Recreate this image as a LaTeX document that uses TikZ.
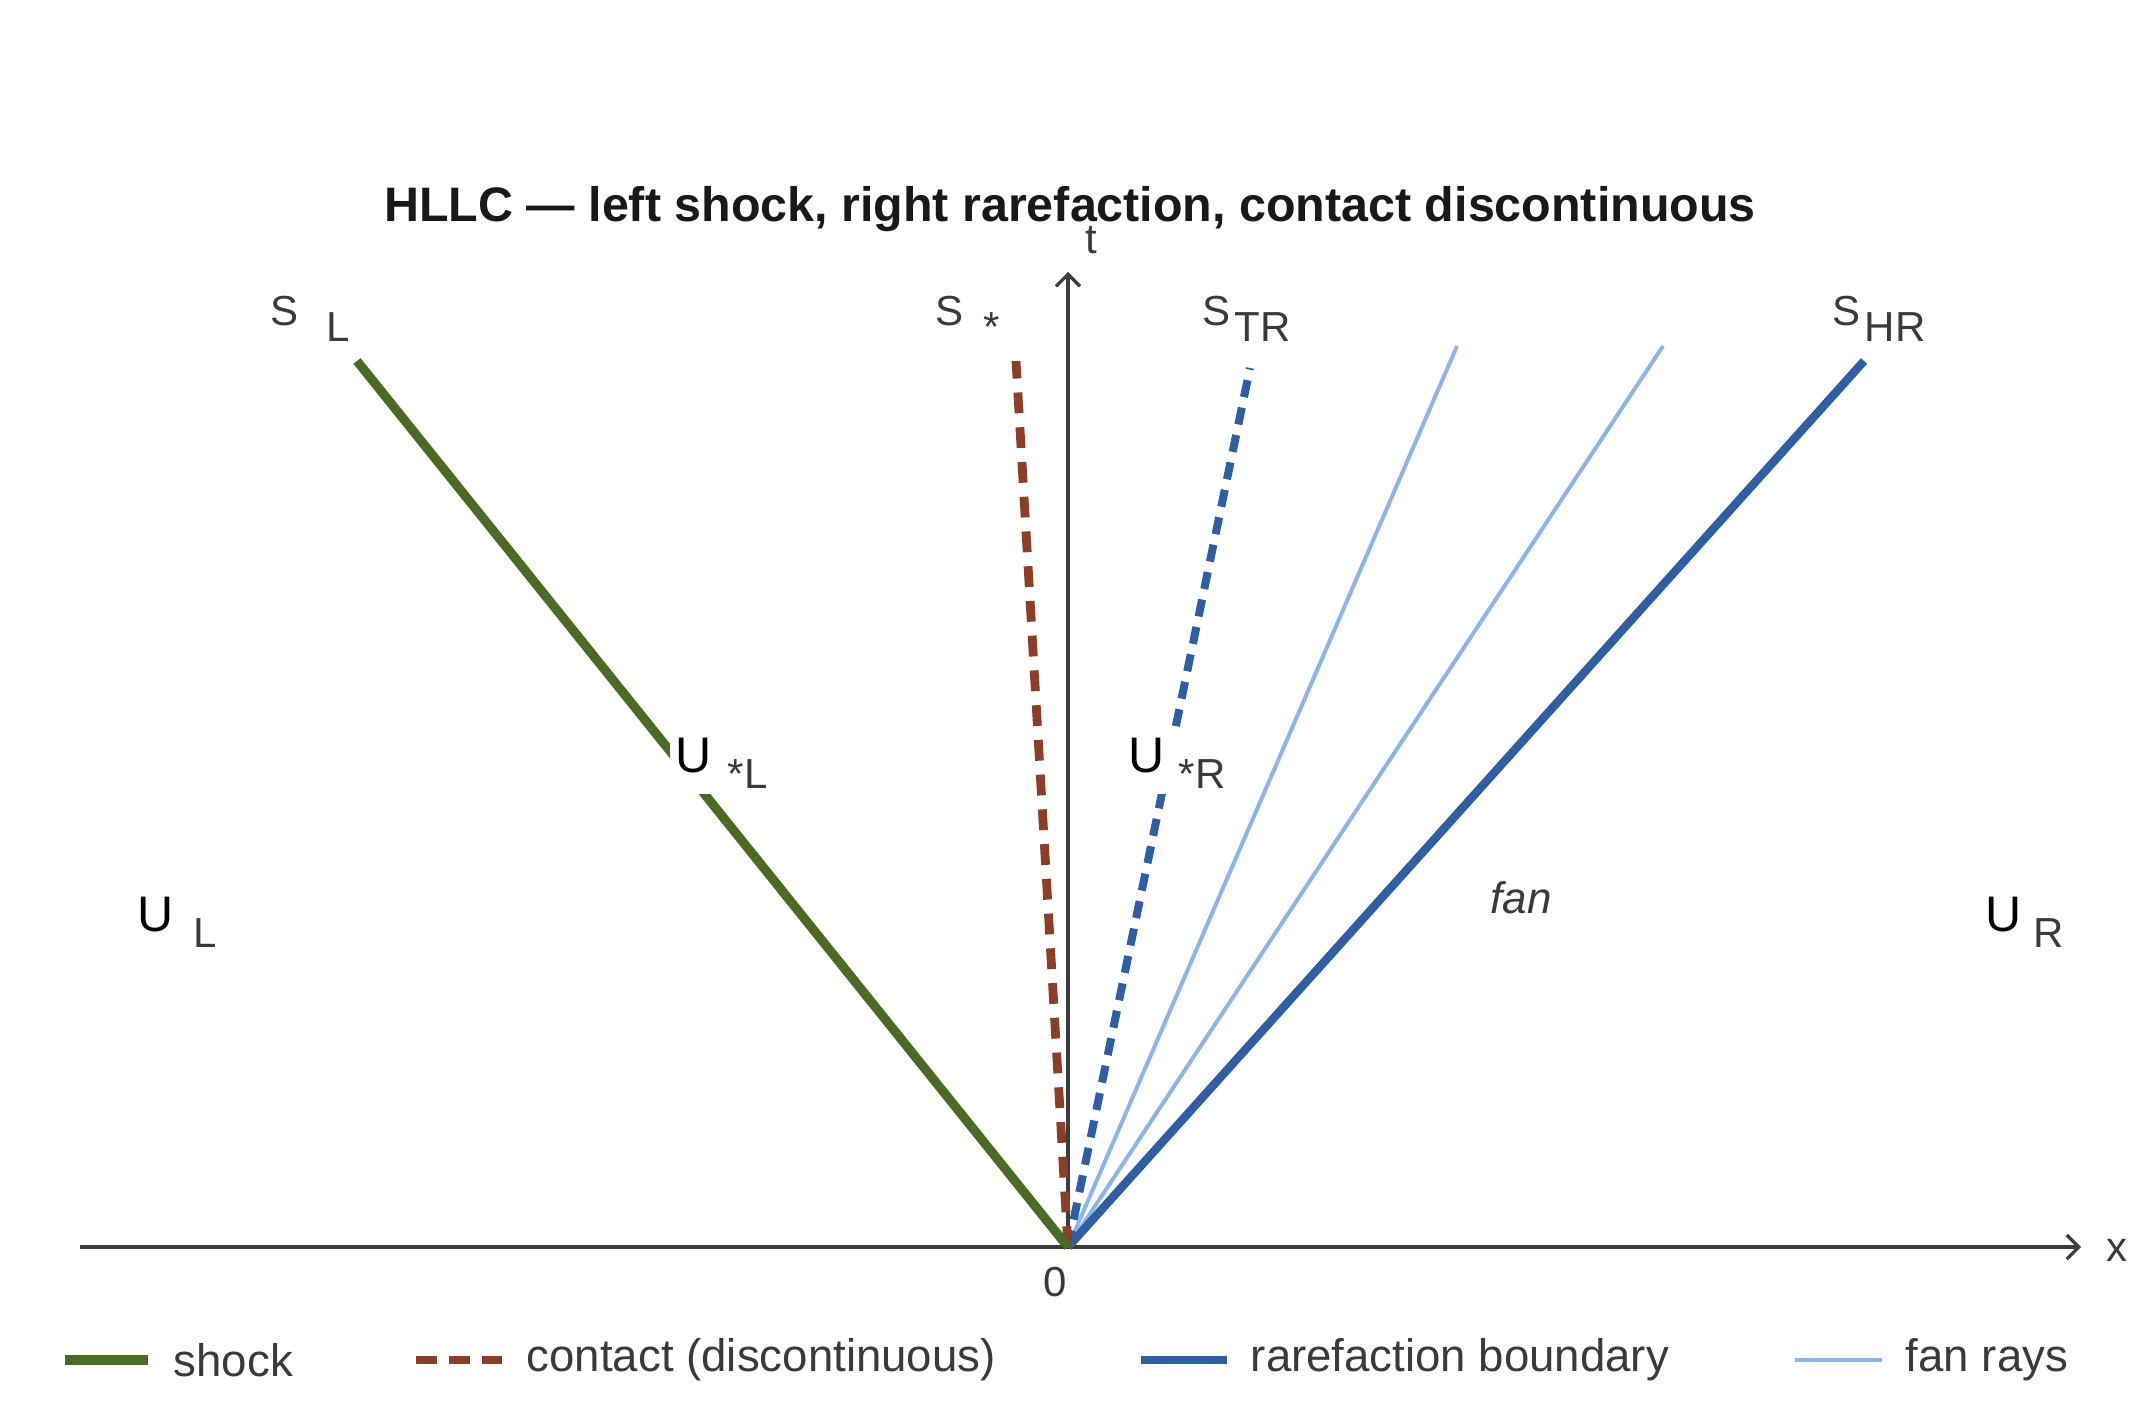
\documentclass[tikz,border=0pt]{standalone}
\usepackage{fontspec}
\setmainfont{Liberation Sans}
\usetikzlibrary{arrows.meta}
\definecolor{shockgreen}{HTML}{4A6B24}
\definecolor{contactred}{HTML}{8C3F26}
\definecolor{rarblue}{HTML}{2E5EA3}
\definecolor{fanblue}{HTML}{8DB5E8}
\definecolor{axisgray}{HTML}{3C3C3C}
\definecolor{labelgray}{HTML}{3A3A3A}
\tikzset{
    wave-shock/.style = {draw=shockgreen, line width=2.3pt},
    wave-contact/.style = {draw=contactred, line width=2.2pt, dash pattern=on 5.2pt off 3.5pt},
    wave-tail/.style = {draw=rarblue, line width=2pt, dash pattern=on 4.3pt off 2.7pt},
    wave-head/.style = {draw=rarblue, line width=2.1pt},
    wave-fan/.style = {draw=fanblue, line width=1pt},
    axis-line/.style = {draw=axisgray, line width=0.8pt, -{Straight Barb[length=3pt,width=6pt]}},
    wave-label/.style = {text=labelgray, font=\fontsize{10.5}{12}\selectfont, inner sep=0pt, anchor=base west},
    state-label/.style = {text=black, font=\fontsize{12.5}{14}\selectfont, inner sep=0pt, anchor=base west},
    star-label/.style = {state-label, fill=white, inner sep=1.5pt},
    legend-text/.style = {text=labelgray, font=\fontsize{11.4}{13}\selectfont, anchor=west, inner sep=0pt},
}
\newcommand{\lowsub}[3]{\hspace{#1}\raisebox{-#2}{\color{labelgray}\fontsize{10.5}{12}\selectfont #3}}

\begin{document}
\begin{tikzpicture}[x=0.25pt, y=-0.25pt]
\useasboundingbox (0,0) rectangle (2152,1426);
\node[font=\bfseries\fontsize{12.1}{14}\selectfont, text=black!90] (title) at (1070,209) {HLLC — left shock, right rarefaction, contact discontinuous};

\coordinate (O) at (1068,1247);
\coordinate (xEnd) at (2081,1247);
\coordinate (xStart) at (80,1247);
\coordinate (tEnd) at (1068,272);
\draw[axis-line] (xStart) -- (xEnd);
\draw[axis-line] (O) -- (tEnd);
\node[text=labelgray, font=\fontsize{10.5}{12}\selectfont] (xlab) at (2117,1250) {x};
\node[text=labelgray, font=\fontsize{10.5}{12}\selectfont] (tlab) at (1091,240) {t};
\node[text=labelgray, font=\fontsize{10.5}{12}\selectfont] (zero) at (1055,1282) {0};

\coordinate (shockEnd) at (357,361);
\coordinate (contactEnd) at (1016,361);
\coordinate (tailEnd) at (1250,368);
\coordinate (fanA) at (1457,346);
\coordinate (fanB) at (1663,346);
\coordinate (headEnd) at (1864,361);
\draw[wave-fan] (O) -- (fanA);
\draw[wave-fan] (O) -- (fanB);
\draw[wave-head] (O) -- (headEnd);
\draw[wave-tail] (O) -- (tailEnd);
\draw[wave-contact] (O) -- (contactEnd);
\draw[wave-shock] (O) -- (shockEnd);

\node[wave-label] (SL) at (270,325) {S\lowsub{7pt}{4pt}{L}};
\node[wave-label] (Sstar) at (935,325) {S\lowsub{5pt}{4pt}{*}};
\node[wave-label] (STR) at (1202,325) {S\lowsub{1pt}{4pt}{TR}};
\node[wave-label] (SHR) at (1832,325) {S\lowsub{1pt}{4pt}{HR}};

\node[star-label] (UstarL) at (669,772) {U\lowsub{4pt}{4pt}{*L}};
\node[star-label] (UstarR) at (1122,772) {U\lowsub{3.5pt}{4pt}{*R}};
\node[state-label] (UL) at (137,931) {U\lowsub{5pt}{4pt}{L}};
\node[state-label] (UR) at (1985,931) {U\lowsub{3pt}{4pt}{R}};
\node[text=labelgray, font=\itshape\fontsize{11}{13}\selectfont] (fan) at (1521,898) {fan};

\coordinate (legA) at (65,1360);
\coordinate (legA2) at (148,1360);
\coordinate (legB) at (416,1360);
\coordinate (legB2) at (503,1360);
\coordinate (legC) at (1141,1360);
\coordinate (legC2) at (1227,1360);
\coordinate (legD) at (1795,1360);
\coordinate (legD2) at (1882,1360);
\draw[wave-shock] (legA) -- (legA2);
\draw[wave-contact, dash pattern=on 5.2pt off 3pt] (legB) -- (legB2);
\draw[wave-head] (legC) -- (legC2);
\draw[wave-fan] (legD) -- (legD2);
\node[legend-text] (legShock) at (173,1360) {shock};
\node[legend-text] (legContact) at (526,1360) {contact (discontinuous)};
\node[legend-text] (legRar) at (1250,1360) {rarefaction boundary};
\node[legend-text] (legFan) at (1905,1360) {fan rays};
\end{tikzpicture}
\end{document}
